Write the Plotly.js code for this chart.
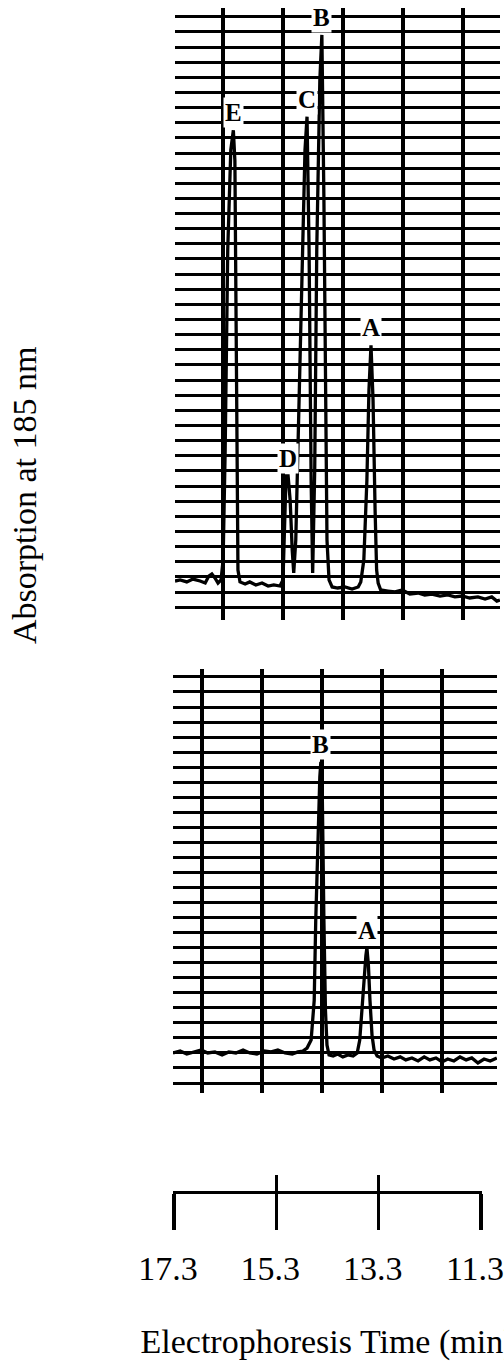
<!DOCTYPE html>
<html>
<head>
<meta charset="utf-8">
<script src="https://cdn.plot.ly/plotly-3.0.1.min.js"></script>
<style>
  html, body { margin: 0; padding: 0; background: #ffffff; }
  #chart { width: 504px; height: 1361px; }
</style>
</head>
<body>
<div id="chart"></div>
<script>
// ---------------- DATA ----------------
// Upper electropherogram: electrophoresis time (min) and absorption (chart divisions above baseline)
const upperTime = [17.28, 17.18, 17.05, 16.93, 16.79, 16.69, 16.62, 16.56, 16.50, 16.44, 16.38,
  16.34, 16.30, 16.25, 16.19, 16.14, 16.11, 16.09, 16.07, 16.05, 16.01, 15.91, 15.82, 15.70,
  15.58, 15.46, 15.35, 15.23, 15.17, 15.14, 15.11, 15.07, 15.03, 14.99, 14.96, 14.92, 14.86,
  14.80, 14.74, 14.70, 14.66, 14.62, 14.59, 14.55, 14.51, 14.45, 14.41, 14.37, 14.34, 14.31,
  14.27, 14.21, 14.10, 13.96, 13.82, 13.70, 13.65, 13.59, 13.53, 13.49, 13.45, 13.41, 13.37,
  13.34, 13.31, 13.26, 13.12, 12.98, 12.84, 12.69, 12.53, 12.40, 12.26, 12.10, 11.95, 11.81,
  11.67, 11.52, 11.36, 11.22, 11.09, 10.99, 10.93];
const upperAbs = [0.13, 0.20, 0.07, 0.26, 0.13, 0.00, 0.46, 0.59, 0.33, 0.00, 0.20,
  1.52, 8.78, 22.0, 28.6, 29.9, 27.9, 18.7, 6.80, 0.86, 0.07, -0.07, 0.07, -0.13,
  0.00, -0.20, -0.13, -0.20, 0.20, 3.50, 7.07, 7.07, 5.48, 2.18, 0.66, 2.84, 10.77,
  20.0, 28.6, 30.8, 22.0, 6.80, 0.66, 7.46, 22.0, 33.2, 36.2, 25.3, 12.1, 2.84,
  0.20, -0.26, -0.33, -0.26, -0.40, -0.26, 0.07, 1.52, 6.80, 12.75, 15.7, 12.1, 4.82,
  0.86, 0.00, -0.46, -0.53, -0.59, -0.46, -0.73, -0.66, -0.79, -0.73, -0.86, -0.79, -0.92,
  -0.86, -0.99, -0.92, -1.06, -0.92, -1.19, -1.12];

// Lower electropherogram
const lowerTime = [17.32, 17.18, 17.05, 16.91, 16.77, 16.64, 16.50, 16.36, 16.23, 16.09, 15.95,
  15.82, 15.68, 15.54, 15.40, 15.27, 15.13, 14.99, 14.88, 14.78, 14.70, 14.62, 14.56, 14.53,
  14.49, 14.45, 14.43, 14.40, 14.37, 14.34, 14.31, 14.27, 14.19, 14.10, 14.00, 13.90, 13.80,
  13.72, 13.67, 13.63, 13.59, 13.55, 13.53, 13.50, 13.47, 13.43, 13.39, 13.33, 13.24, 13.12,
  13.00, 12.88, 12.77, 12.65, 12.53, 12.41, 12.30, 12.18, 12.06, 11.95, 11.83, 11.71, 11.59,
  11.48, 11.36, 11.24, 11.12, 10.99];
const lowerAbs = [0.00, 0.13, -0.07, 0.07, 0.20, 0.00, 0.07, -0.13, 0.07, 0.00, 0.20,
  0.00, -0.07, 0.13, 0.07, 0.20, 0.00, -0.07, 0.07, 0.13, 0.33, 0.86, 3.50, 8.78,
  14.07, 18.36, 19.35, 16.71, 8.78, 2.84, 0.53, -0.13, -0.20, -0.07, -0.26, -0.13, -0.20,
  0.00, 0.86, 2.84, 4.82, 6.47, 7.00, 5.81, 3.50, 1.19, 0.20, -0.20, -0.33, -0.20,
  -0.40, -0.26, -0.46, -0.33, -0.53, -0.26, -0.46, -0.33, -0.59, -0.40, -0.53, -0.26, -0.46,
  -0.33, -0.66, -0.40, -0.53, -0.33];

// Peak labels
const upperPeakNames = ['E', 'D', 'C', 'B', 'A'];
const upperPeakTime = [16.14, 15.07, 14.70, 14.41, 13.45];
const upperPeakAbs = [29.9, 7.07, 30.8, 36.2, 15.7];
const lowerPeakNames = ['B', 'A'];
const lowerPeakTime = [14.43, 13.53];
const lowerPeakAbs = [19.35, 7.00];

// Time scale bar
const scaleTickValues = [17.3, 15.3, 13.3, 11.3];
const scaleTickLabels = ['17.3', '15.3', '13.3', '11.3'];

const xTitle = 'Electrophoresis Time (min)';
const yTitle = 'Absorption at 185 nm';

// ---------------- GEOMETRY ----------------
const W = 504, H = 1361;
const FONT = '"Liberation Serif", "Times New Roman", Times, serif';
const MIN_PER_PX = 6 / 307;          // scale bar: 6 min over 307 px
const T_AT_PX = (px) => 17.3 - (px - 174) * MIN_PER_PX;
const fx = (px) => px / W;
const fy = (py) => 1 - py / H;
const GRID_STEP_MIN = 60 * MIN_PER_PX; // chart paper vertical divisions

// upper panel: baseline pixel 583, 15.14 px per division
const U = { left: 175, right: 500, top: 8, bottom: 620, base: 583, ppu: 15.14, firstV: 223, firstH: 607.2 };
// lower panel
const L = { left: 173, right: 497, top: 669, bottom: 1093, base: 1053, ppu: 15.04, firstV: 202, firstH: 1083 };

function panelAxes(P) {
  const yr = [(P.base - P.bottom) / P.ppu, (P.base - P.top) / P.ppu];
  return {
    x: {
      domain: [fx(P.left), fx(P.right)],
      range: [T_AT_PX(P.left), T_AT_PX(P.right)],
      showgrid: true, gridcolor: '#000', gridwidth: 3.5,
      tickmode: 'linear', tick0: T_AT_PX(P.firstV), dtick: GRID_STEP_MIN,
      showticklabels: false, ticks: '', zeroline: false, showline: false
    },
    y: {
      domain: [fy(P.bottom), fy(P.top)],
      range: yr,
      showgrid: true, gridcolor: '#000', gridwidth: 3,
      tickmode: 'linear', tick0: (P.base - P.firstH) / P.ppu, dtick: 1,
      showticklabels: false, ticks: '', zeroline: false, showline: false
    }
  };
}

const up = panelAxes(U), lo = panelAxes(L);

const traces = [
  { x: upperTime, y: upperAbs, xaxis: 'x', yaxis: 'y', type: 'scatter', mode: 'lines',
    line: { color: '#000', width: 3.3 }, hoverinfo: 'skip', showlegend: false },
  { x: lowerTime, y: lowerAbs, xaxis: 'x2', yaxis: 'y2', type: 'scatter', mode: 'lines',
    line: { color: '#000', width: 3.3 }, hoverinfo: 'skip', showlegend: false },
  { x: [], y: [], xaxis: 'x3', yaxis: 'y3', type: 'scatter', mode: 'lines', showlegend: false, hoverinfo: 'skip' },
  { x: [], y: [], xaxis: 'x4', yaxis: 'y3', type: 'scatter', mode: 'lines', showlegend: false, hoverinfo: 'skip' }
];

const annotations = [];
function addPeakLabels(names, times, vals, xref, yref) {
  names.forEach((n, i) => {
    annotations.push({
      x: times[i], y: vals[i], xref: xref, yref: yref, text: n, showarrow: false,
      xanchor: 'center', yanchor: 'bottom', yshift: 2,
      font: { family: FONT, size: 25, color: '#000', weight: 'bold' },
      bgcolor: '#fff', borderpad: 1
    });
  });
}
addPeakLabels(upperPeakNames, upperPeakTime, upperPeakAbs, 'x', 'y');
addPeakLabels(lowerPeakNames, lowerPeakTime, lowerPeakAbs, 'x2', 'y2');

annotations.push({
  x: fx(24), y: fy(496), xref: 'paper', yref: 'paper', text: yTitle, showarrow: false,
  textangle: -90, xanchor: 'center', yanchor: 'middle',
  font: { family: FONT, size: 34, color: '#000' }
});

const scaleRange = [T_AT_PX(173), T_AT_PX(482)];

const layout = {
  width: W, height: H,
  margin: { l: 0, r: 0, t: 0, b: 0, pad: 0 },
  paper_bgcolor: '#fff', plot_bgcolor: 'rgba(0,0,0,0)',
  showlegend: false,
  font: { family: FONT, color: '#000' },
  xaxis: Object.assign({ anchor: 'y' }, up.x),
  yaxis: Object.assign({ anchor: 'x' }, up.y),
  xaxis2: Object.assign({ anchor: 'y2' }, lo.x),
  yaxis2: Object.assign({ anchor: 'x2' }, lo.y),
  xaxis3: {
    anchor: 'y3', domain: [fx(173), fx(482)], range: scaleRange,
    tickmode: 'array', tickvals: scaleTickValues, ticktext: scaleTickLabels,
    ticks: 'outside', ticklen: 36, tickwidth: 3.5, tickcolor: '#000',
    showline: true, linewidth: 3, linecolor: '#000',
    showgrid: false, zeroline: false,
    tickfont: { family: FONT, size: 34, color: '#000' },
    ticklabelstandoff: 9, ticklabelshift: 6, ticklabeloverflow: 'allow',
    title: { text: xTitle, font: { family: FONT, size: 34, color: '#000' }, standoff: 45 }
  },
  xaxis4: {
    anchor: 'y3', overlaying: 'x3', domain: [fx(173), fx(482)], range: scaleRange,
    tickmode: 'array', tickvals: scaleTickValues,
    ticks: 'inside', ticklen: 16, tickwidth: 3.5, tickcolor: '#000',
    showline: false, showgrid: false, zeroline: false, showticklabels: false
  },
  yaxis3: {
    anchor: 'x3', domain: [fy(1191), fy(1180)], range: [0, 1],
    visible: false, showgrid: false, zeroline: false
  },
  annotations: annotations
};

Plotly.newPlot('chart', traces, layout, { staticPlot: true, displayModeBar: false });
</script>
</body>
</html>
